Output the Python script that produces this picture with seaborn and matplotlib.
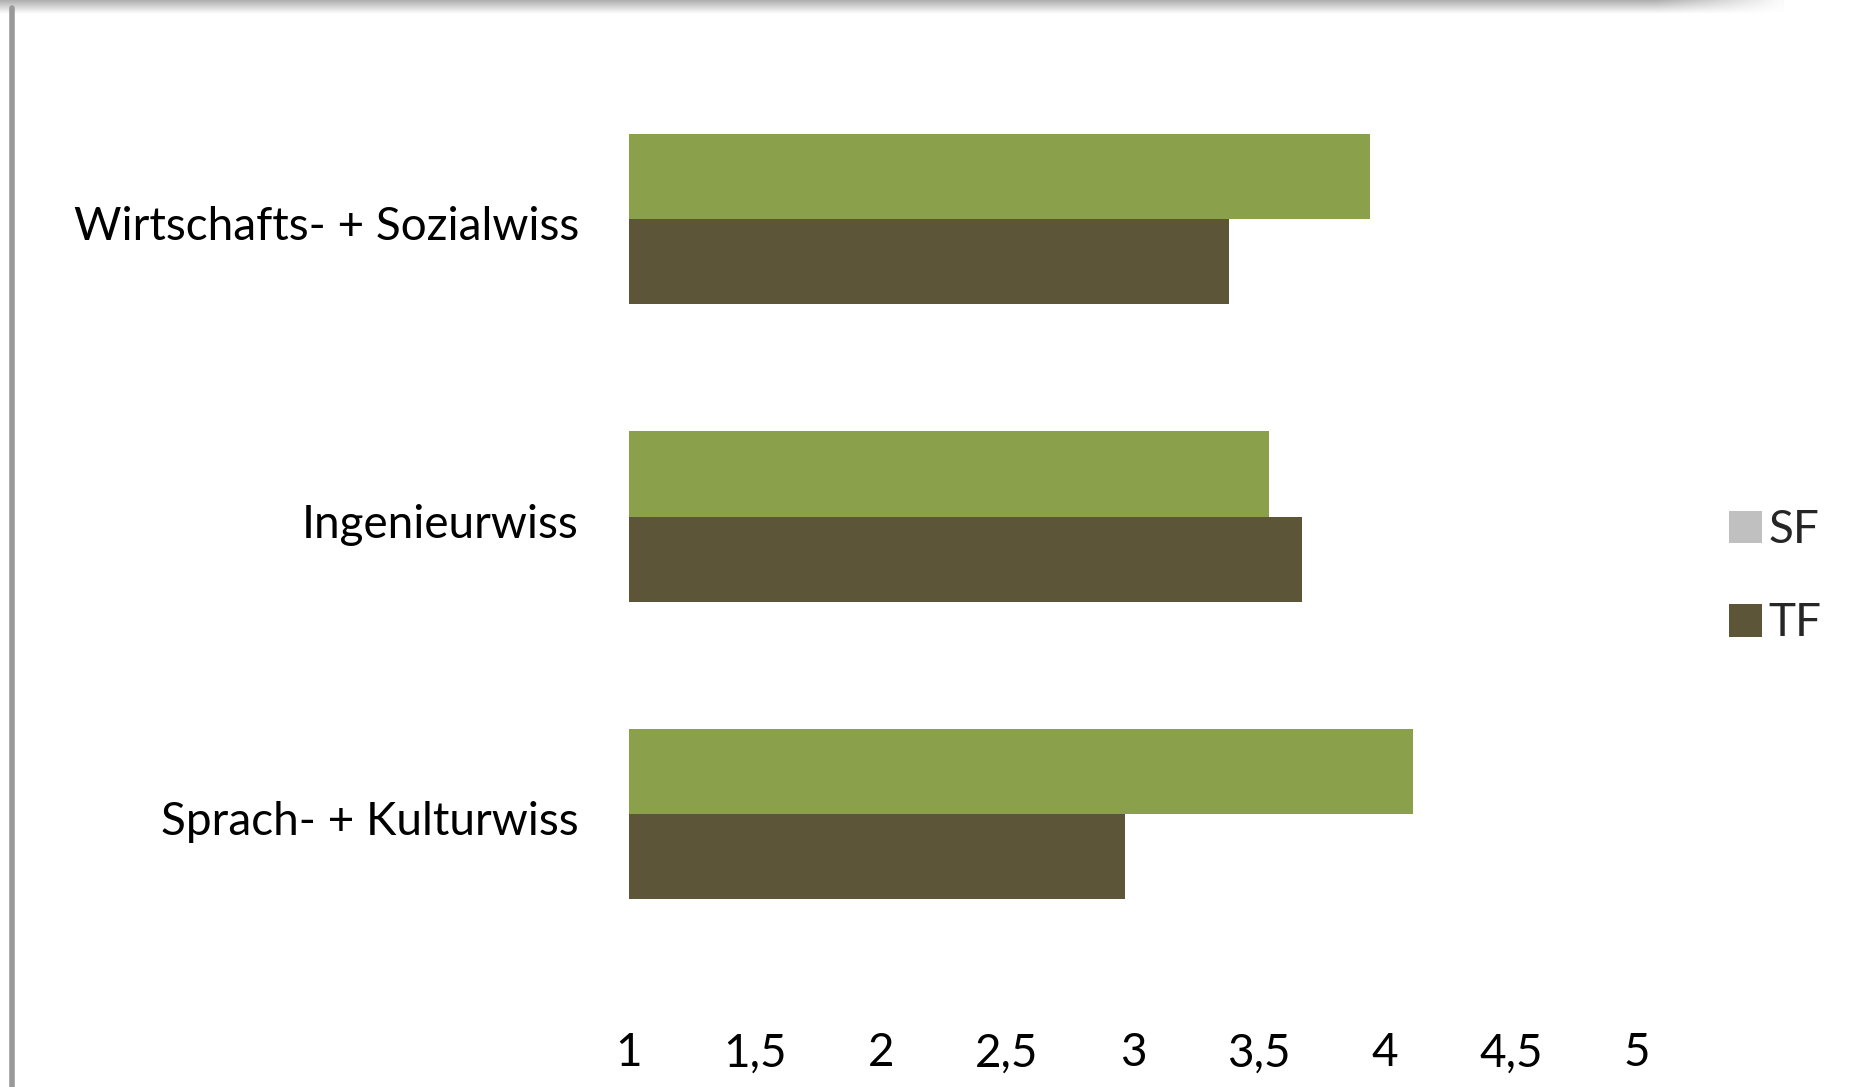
import numpy as np
import pandas as pd
import matplotlib
matplotlib.use("Agg")
import matplotlib.pyplot as plt
import matplotlib.transforms as mtransforms
from matplotlib.patches import Patch
from matplotlib.lines import Line2D
import seaborn as sns

categories = ["Wirtschafts- + Sozialwiss", "Ingenieurwiss", "Sprach- + Kulturwiss"]
sf_values = [3.94, 3.54, 4.11]
tf_values = [3.38, 3.67, 2.97]
series = ["SF", "TF"]
x_ticks = [1, 1.5, 2, 2.5, 3, 3.5, 4, 4.5, 5]
x_tick_labels = ["1", "1,5", "2", "2,5", "3", "3,5", "4", "4,5", "5"]

df = pd.DataFrame({
    "Kategorie": categories * 2,
    "Wert": sf_values + tf_values,
    "Serie": ["SF"] * 3 + ["TF"] * 3,
})

sns.set_theme(style="white")
plt.rcParams["font.family"] = ["Lato", "DejaVu Sans"]

W, H = 1865, 1087
fig = plt.figure(figsize=(W / 100, H / 100), dpi=100)
ax = fig.add_axes([629 / W, 1 - 963 / H, (1637 - 629) / W, (963 - 70) / H])

bar_colors = {"SF": "#8AA04B", "TF": "#5C5537"}
sns.barplot(data=df, y="Kategorie", x="Wert", hue="Serie", hue_order=series,
            order=categories, palette=bar_colors, orient="h", width=0.572,
            saturation=1, ax=ax, legend=False, linewidth=0)

ax.set_xlim(1, 5)
ax.set_ylim(2.5, -0.5)
ax.set_xticks(x_ticks)
ax.set_xticklabels(x_tick_labels)
ax.set_xlabel("")
ax.set_ylabel("")
for s in ax.spines.values():
    s.set_visible(False)
ax.tick_params(axis="x", length=0, pad=50, labelsize=33, labelcolor="black")
ax.tick_params(axis="y", length=0, pad=36, labelsize=33, labelcolor="black")
shift = mtransforms.ScaledTranslation(0, -4 / 100, fig.dpi_scale_trans)
for t in ax.get_yticklabels():
    t.set_transform(t.get_transform() + shift)

# legend (swatch colours as in reference)
handles = [Patch(facecolor="#C0C0C0", edgecolor="none"),
           Patch(facecolor="#5C5537", edgecolor="none")]
fig.legend(handles, series, loc="upper left",
           bbox_to_anchor=(1706 / W, 1 - 486 / H), frameon=False,
           fontsize=33, handlelength=0.72, handleheight=0.72,
           handletextpad=0.15, labelspacing=1.12, borderpad=0)

# top shadow decoration
sh = fig.add_axes([0, 1 - 14 / H, 1784 / W, 14 / H])
grad = np.linspace(0.68, 1.0, 50)[:, None] * np.ones((1, 200))
fade = np.clip((np.arange(200) - 185) / 15, 0, 1)[None, :]
img = grad + (1 - grad) * fade
sh.imshow(img, cmap="gray", vmin=0, vmax=1, aspect="auto", interpolation="bilinear")
sh.axis("off")

# left border line
fig.add_artist(Line2D([12 / W, 12 / W], [0, 1 - 8 / H], color="#999999", lw=4,
                      transform=fig.transFigure))

fig.savefig("out.png", dpi=100, facecolor="white")
